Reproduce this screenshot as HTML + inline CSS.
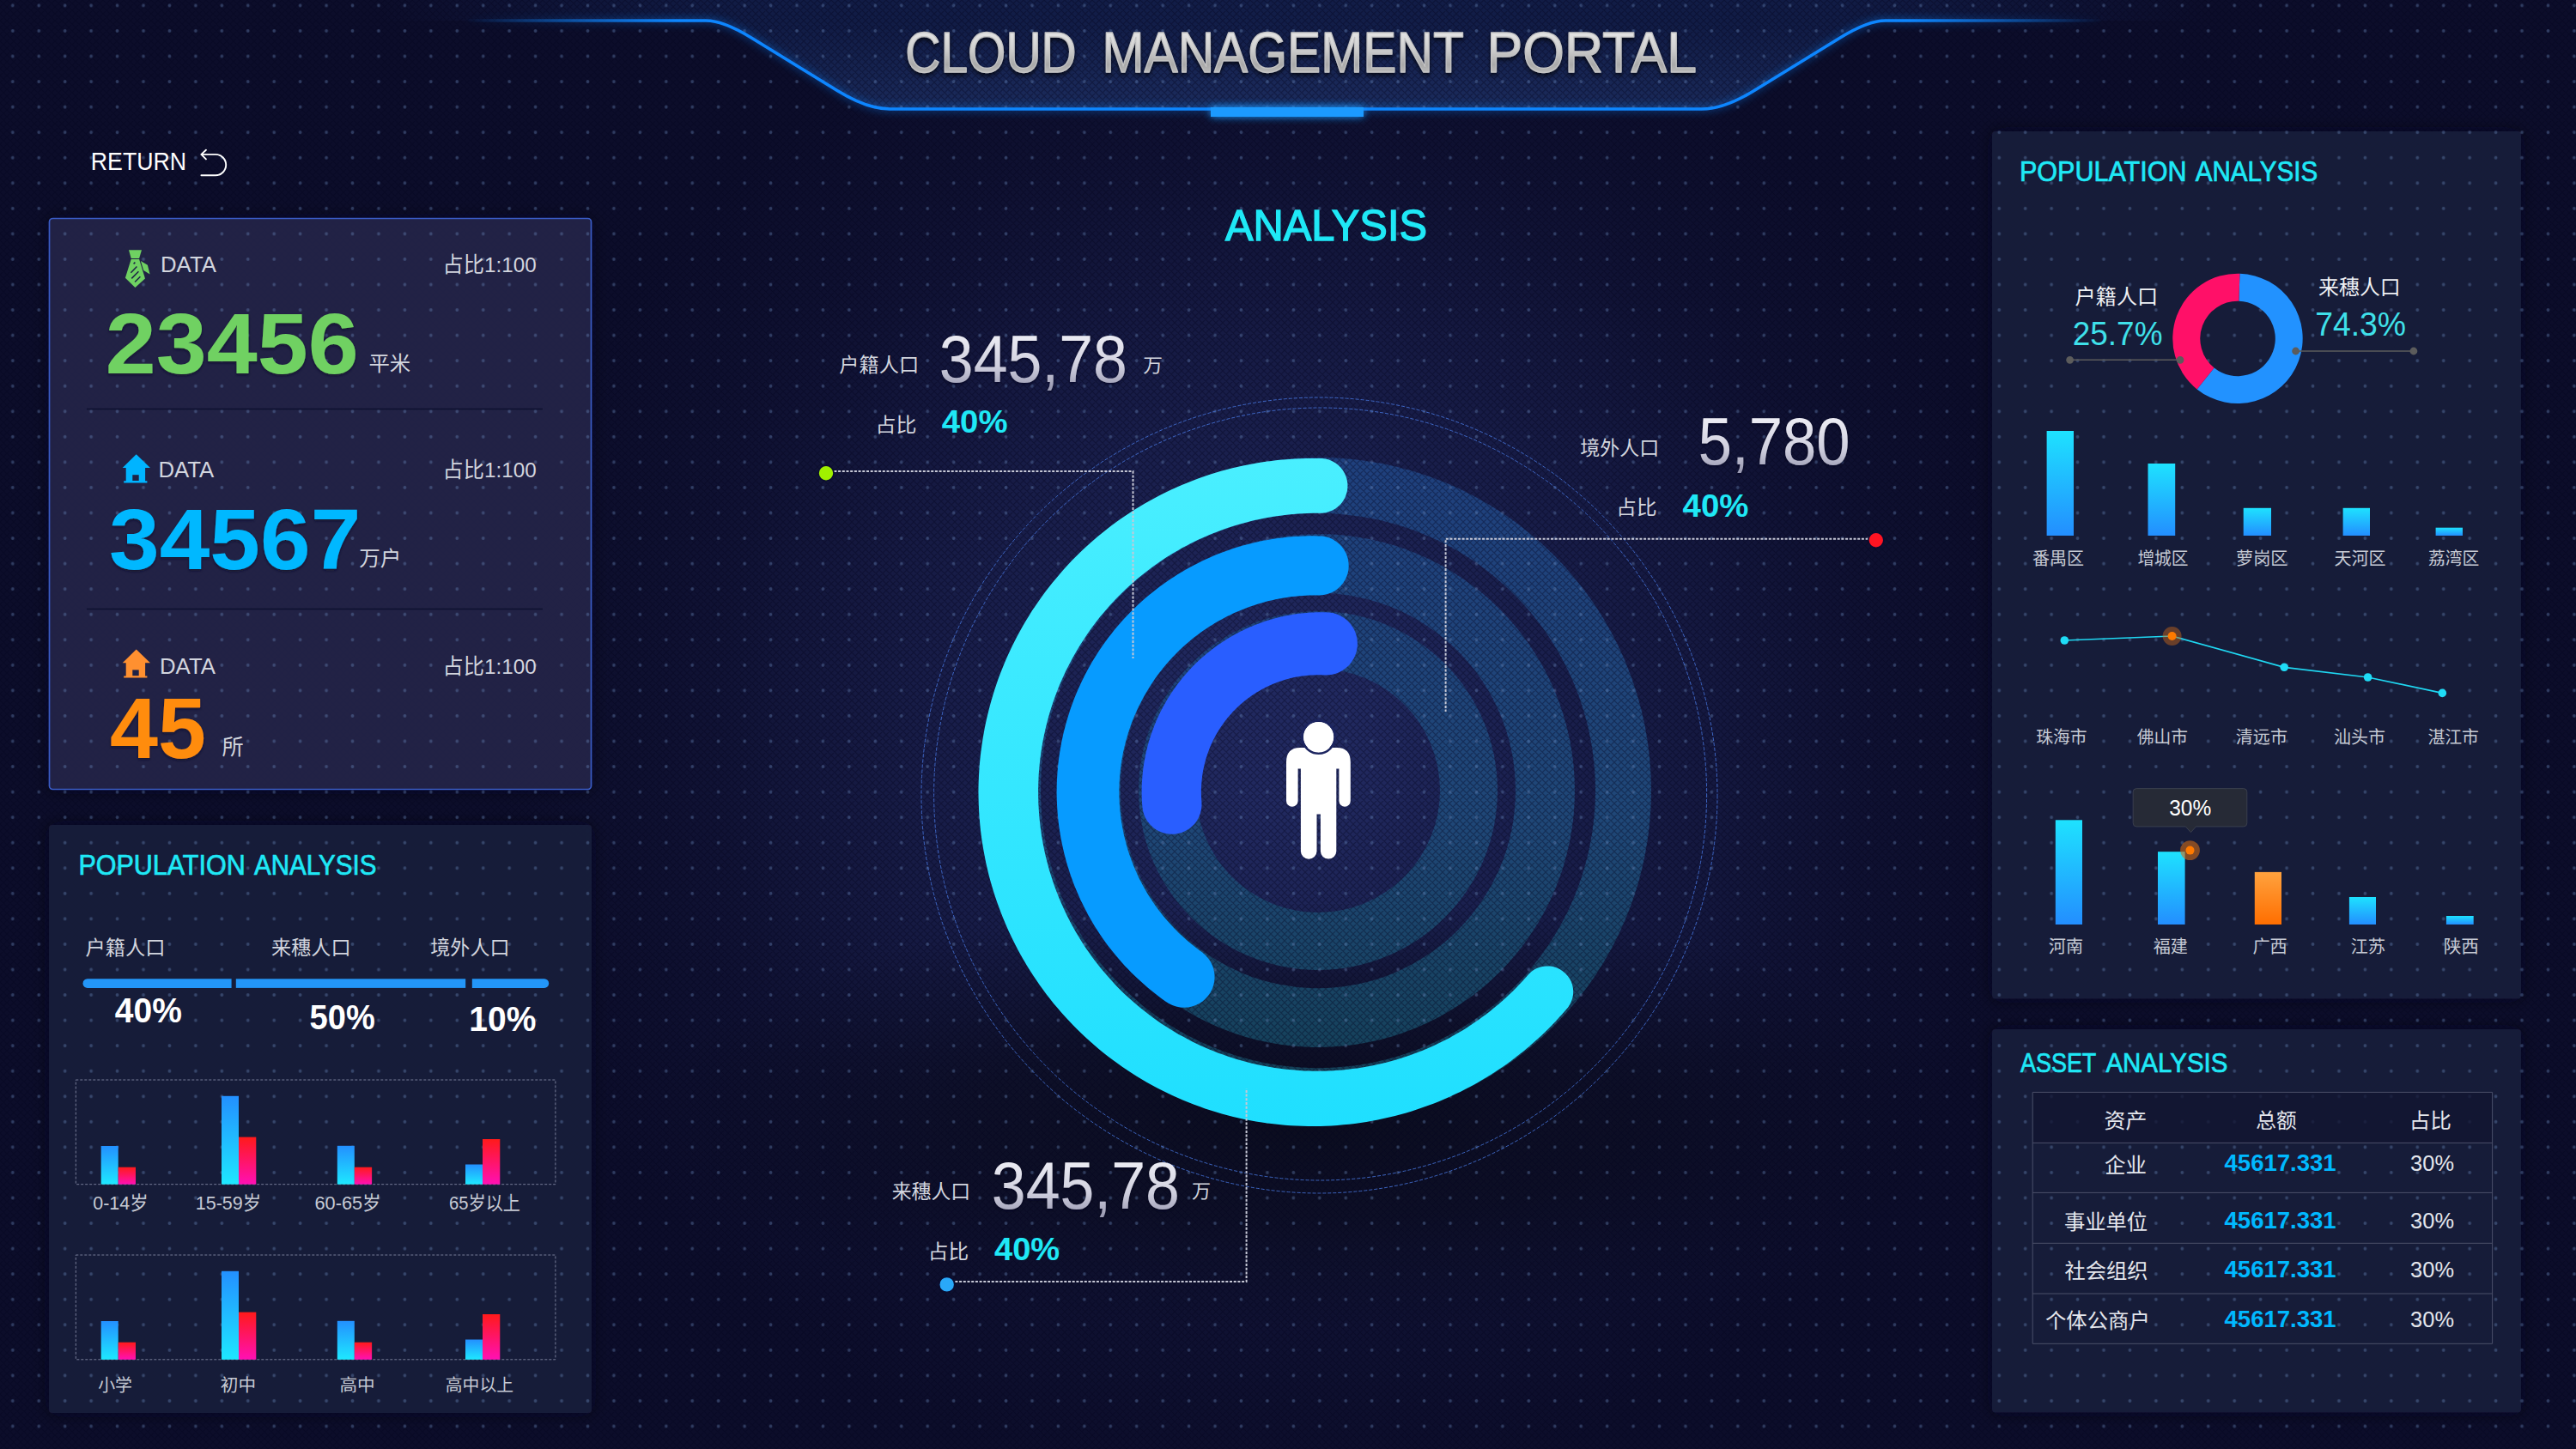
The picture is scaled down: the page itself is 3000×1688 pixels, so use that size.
<!DOCTYPE html>
<html lang="zh"><head><meta charset="utf-8"><title>CLOUD MANAGEMENT PORTAL</title>
<style>
html,body{margin:0;padding:0;background:#0c0d2a;}
body{width:3000px;height:1688px;overflow:hidden;position:relative;font-family:"Liberation Sans","Noto Sans CJK SC",sans-serif;}
#bg{position:absolute;left:0;top:0;width:3000px;height:1688px;
background:
 radial-gradient(ellipse 760px 250px at 1520px 1300px, rgba(9,10,24,0.88), rgba(9,10,25,0.6) 50%, rgba(9,10,26,0.25) 78%, rgba(9,10,26,0) 100%),
 radial-gradient(circle 900px at 1480px 850px, rgba(33,41,95,1.0) 0%, rgba(33,41,95,1.0) 10%, rgba(33,41,95,0.94) 15.4%, rgba(33,41,95,0.68) 35%, rgba(33,41,95,0.43) 55%, rgba(33,41,95,0.32) 63.5%, rgba(33,41,95,0.21) 71%, rgba(33,41,95,0.13) 79%, rgba(33,41,95,0.085) 85%, rgba(33,41,95,0) 100%),
 #0c0d2a;}
svg{position:absolute;left:0;top:0;}
text{font-family:"Liberation Sans","Noto Sans CJK SC",sans-serif;white-space:pre;}
</style></head><body>
<div id="bg"></div>
<svg width="3000" height="1688" viewBox="0 0 3000 1688">
<defs>
<linearGradient id="gTitle" x1="0" y1="0" x2="0" y2="1"><stop offset="0" stop-color="#f4f4f4"/><stop offset="0.45" stop-color="#cfcfcf"/><stop offset="0.7" stop-color="#a9a9a9"/><stop offset="1" stop-color="#d5d5d5"/></linearGradient>
<linearGradient id="gSilver" x1="0" y1="0" x2="0" y2="1"><stop offset="0.1" stop-color="#f2f2f8"/><stop offset="0.6" stop-color="#cfcfde"/><stop offset="0.9" stop-color="#9c9cb4"/></linearGradient>
<linearGradient id="gLine" gradientUnits="userSpaceOnUse" x1="540" y1="0" x2="2450" y2="0"><stop offset="0" stop-color="#0d86ff" stop-opacity="0"/><stop offset="0.13" stop-color="#0d86ff" stop-opacity="1"/><stop offset="0.88" stop-color="#0d86ff" stop-opacity="1"/><stop offset="1" stop-color="#0d86ff" stop-opacity="0"/></linearGradient>
<linearGradient id="gCyan" gradientUnits="userSpaceOnUse" x1="0" y1="530" x2="0" y2="1315"><stop offset="0" stop-color="#4aefff"/><stop offset="1" stop-color="#1fdfff"/></linearGradient>
<linearGradient id="gTrack" gradientUnits="userSpaceOnUse" x1="0" y1="530" x2="0" y2="1310"><stop offset="0" stop-color="#1f407d"/><stop offset="0.55" stop-color="#1f4777"/><stop offset="1" stop-color="#124052"/></linearGradient>
<linearGradient id="gBlueUp" x1="0" y1="0" x2="0" y2="1"><stop offset="0" stop-color="#2390ff"/><stop offset="1" stop-color="#1ee8ff"/></linearGradient>
<linearGradient id="gBlueDn" x1="0" y1="0" x2="0" y2="1"><stop offset="0" stop-color="#1ee2ff"/><stop offset="1" stop-color="#238eff"/></linearGradient>
<linearGradient id="gRed" x1="0" y1="0" x2="0" y2="1"><stop offset="0" stop-color="#ff1a1a"/><stop offset="1" stop-color="#ff10b4"/></linearGradient>
<linearGradient id="gOrange" x1="0" y1="0" x2="0" y2="1"><stop offset="0" stop-color="#ffa23e"/><stop offset="1" stop-color="#ff6e00"/></linearGradient>
<radialGradient id="gBanner" gradientUnits="userSpaceOnUse" cx="1509" cy="110" r="760" gradientTransform="translate(1509 110) scale(1 0.2) translate(-1509 -110)"><stop offset="0" stop-color="#2a4a8a" stop-opacity="0.04"/><stop offset="0.6" stop-color="#264488" stop-opacity="0.02"/><stop offset="1" stop-color="#264488" stop-opacity="0"/></radialGradient>
<linearGradient id="gBanH" gradientUnits="userSpaceOnUse" x1="440" y1="0" x2="2570" y2="0"><stop offset="0" stop-color="#204896" stop-opacity="0"/><stop offset="0.2" stop-color="#204896" stop-opacity="0.25"/><stop offset="0.8" stop-color="#204896" stop-opacity="0.25"/><stop offset="1" stop-color="#204896" stop-opacity="0"/></linearGradient>
<linearGradient id="gBanV" gradientUnits="userSpaceOnUse" x1="0" y1="30" x2="0" y2="127"><stop offset="0" stop-color="#3c5c9c" stop-opacity="0"/><stop offset="1" stop-color="#3c5ea4" stop-opacity="0.2"/></linearGradient>
<filter id="fTitle" x="-5%" y="-20%" width="110%" height="150%"><feDropShadow dx="0" dy="3" stdDeviation="2.5" flood-color="#000" flood-opacity="0.7"/></filter>
<filter id="fNum" x="-5%" y="-20%" width="110%" height="150%"><feDropShadow dx="0" dy="2" stdDeviation="1.5" flood-color="#0a0c28" flood-opacity="0.7"/></filter>
<filter id="fSil" x="-5%" y="-20%" width="110%" height="150%"><feDropShadow dx="0" dy="2" stdDeviation="1.5" flood-color="#05061a" flood-opacity="0.6"/></filter>
<filter id="fPanel" x="-10%" y="-10%" width="120%" height="120%"><feDropShadow dx="0" dy="0" stdDeviation="9" flood-color="#03041a" flood-opacity="0.75"/></filter>
<filter id="fBlur4" x="-5%" y="-50%" width="110%" height="200%"><feGaussianBlur stdDeviation="4"/></filter>
<filter id="fGlowS" x="-20%" y="-200%" width="140%" height="500%"><feGaussianBlur stdDeviation="5"/></filter>
<pattern id="pHatch" width="8" height="8" patternUnits="userSpaceOnUse"><path d="M-1,-1 L9,9 M9,-1 L-1,9 M-1,1 L1,-1 M7,9 L9,7 M-1,7 L1,9 M7,-1 L9,1" stroke="#02031c" stroke-opacity="0.34" stroke-width="1.3" fill="none"/></pattern>
<pattern id="pDots" width="30.44" height="29.555" x="-0.42" y="-8.38" patternUnits="userSpaceOnUse"><circle cx="15.22" cy="14.78" r="1.9" fill="#7090c4" fill-opacity="0.36"/></pattern>
</defs>
<path d="M440,0 L440,24 L822,24 Q842.5,24 875,44 L975,105.5 Q1010,127 1036,127 L1982,127 Q2008,127 2043,105.5 L2143,44 Q2175.5,24 2196,24 L2570,24 L2570,0Z" fill="url(#gBanH)"/>
<path d="M440,0 L440,24 L822,24 Q842.5,24 875,44 L975,105.5 Q1010,127 1036,127 L1982,127 Q2008,127 2043,105.5 L2143,44 Q2175.5,24 2196,24 L2570,24 L2570,0Z" fill="url(#gBanV)"/>
<path d="M440,0 L440,24 L822,24 Q842.5,24 875,44 L975,105.5 Q1010,127 1036,127 L1982,127 Q2008,127 2043,105.5 L2143,44 Q2175.5,24 2196,24 L2570,24 L2570,0Z" fill="url(#gBanner)"/>
<path d="M1326,921 A209,209 0 1 1 1744,921 A209,209 0 1 1 1326,921Z M1393,921 A142,142 0 1 0 1677,921 A142,142 0 1 0 1393,921Z M1236,921 A299,299 0 1 1 1834,921 A299,299 0 1 1 1236,921Z M1305,921 A230,230 0 1 0 1765,921 A230,230 0 1 0 1305,921Z M1147,921 A388,388 0 1 1 1923,921 A388,388 0 1 1 1147,921Z M1212,921 A323,323 0 1 0 1858,921 A323,323 0 1 0 1212,921Z" fill="url(#gTrack)" fill-rule="evenodd"/>
<rect width="3000" height="1688" fill="url(#pHatch)"/>
<rect x="57.5" y="254.5" width="631" height="665" rx="4" fill="#242748" fill-opacity="0.88" filter="url(#fPanel)"/>
<rect x="57" y="961" width="632" height="685" rx="4" fill="#191d3b" fill-opacity="0.84" filter="url(#fPanel)"/>
<rect x="2320" y="153" width="616" height="1010.5" rx="4" fill="#191d3b" fill-opacity="0.84" filter="url(#fPanel)"/>
<rect x="2320" y="1199" width="616" height="446.5" rx="4" fill="#191d3b" fill-opacity="0.84" filter="url(#fPanel)"/>
<rect width="3000" height="1688" fill="url(#pDots)"/>
<rect x="57.5" y="254.5" width="631" height="665" rx="4" fill="none" stroke="#3a5cc6" stroke-width="1.7"/>
<path d="M540,24 L822,24 Q842.5,24 875,44 L975,105.5 Q1010,127 1036,127 L1982,127 Q2008,127 2043,105.5 L2143,44 Q2175.5,24 2196,24 L2450,24" fill="none" stroke="url(#gLine)" stroke-width="9" opacity="0.28" filter="url(#fBlur4)"/>
<path d="M540,24 L822,24 Q842.5,24 875,44 L975,105.5 Q1010,127 1036,127 L1982,127 Q2008,127 2043,105.5 L2143,44 Q2175.5,24 2196,24 L2450,24" fill="none" stroke="url(#gLine)" stroke-width="3.6"/>
<rect x="1410.0" y="125.0" width="178.0" height="11.0" fill="#1c9aff" filter="url(#fGlowS)"/>
<rect x="1410.0" y="125.0" width="178.0" height="11.0" fill="#1c9aff" />
<path d="M239.9,174.7 L234.4,179.9 L239.9,185.4 M234.4,179.9 L251,179.9 A12.2,12.2 0 0 1 251,204.3 L234.4,204.3" fill="none" stroke="#fff" stroke-width="1.9" stroke-linecap="round" stroke-linejoin="round"/>
<g fill="#6fd162"><path d="M150,291.2 L165,291.2 L162.1,301.1 L152.7,301.1Z"/><path d="M152.7,302 L162.1,302 L169,324.4 L157.4,335 L145.9,323.7Z"/><path d="M163.9,304 L171.9,308.7 L174.6,319.5 L167.2,315Z"/></g>
<g stroke="#1e2347" stroke-width="1.5" fill="none"><path d="M152.4,317.7 L159.4,310.5 M153.3,324.4 L161.4,316.3 M157.1,328.5 L163.4,322.2 M155.6,307.4 L157.4,305.6"/></g>
<g transform="translate(142.7,529.3)"><path d="M16,0 L32.3,15.7 L26.4,15.7 L26.4,31 L28.7,31 L28.7,33.1 L1.5,33.1 L1.5,31 L4,31 L4,15.7 L0,15.7Z" fill="#00b4ff"/><rect x="11.6" y="23.9" width="7.4" height="6.8" fill="#1e2347"/></g>
<g transform="translate(142.7,756.5)"><path d="M16,0 L32.3,15.7 L26.4,15.7 L26.4,31 L28.7,31 L28.7,33.1 L1.5,33.1 L1.5,31 L4,31 L4,15.7 L0,15.7Z" fill="#ff9030"/><rect x="11.6" y="23.9" width="7.4" height="6.8" fill="#1e2347"/></g>
<path d="M101,476.5 H632 M101,709.5 H632" stroke="#0e1130" stroke-width="1.6"/>
<path d="M101.8,1140.3 H269.6 V1150.9 H101.8 A5.3,5.3 0 0 1 101.8,1140.3Z" fill="#2396f8"/>
<rect x="274.8" y="1140.3" width="267.4" height="10.6" fill="#2396f8" />
<path d="M549.8,1140.3 H633.9 A5.3,5.3 0 0 1 633.9,1150.9 H549.8Z" fill="#2396f8"/>
<rect x="88.3" y="1258" width="558.6" height="121.7" fill="none" stroke="#777c98" stroke-width="1" stroke-dasharray="3 2"/>
<rect x="117.7" y="1335.0" width="20.0" height="44.7" fill="url(#gBlueUp)" />
<rect x="137.7" y="1359.7" width="20.3" height="20.0" fill="url(#gRed)" />
<rect x="258.0" y="1276.8" width="20.0" height="102.9" fill="url(#gBlueUp)" />
<rect x="278.0" y="1324.6" width="20.3" height="55.1" fill="url(#gRed)" />
<rect x="392.8" y="1334.8" width="20.0" height="44.9" fill="url(#gBlueUp)" />
<rect x="412.8" y="1359.7" width="20.3" height="20.0" fill="url(#gRed)" />
<rect x="542.0" y="1356.5" width="20.0" height="23.2" fill="url(#gBlueUp)" />
<rect x="562.0" y="1327.0" width="20.3" height="52.7" fill="url(#gRed)" />
<rect x="88.3" y="1462" width="558.6" height="121.8" fill="none" stroke="#777c98" stroke-width="1" stroke-dasharray="3 2"/>
<rect x="117.7" y="1539.0" width="20.0" height="44.8" fill="url(#gBlueUp)" />
<rect x="137.7" y="1563.7" width="20.3" height="20.1" fill="url(#gRed)" />
<rect x="258.0" y="1480.8" width="20.0" height="103.0" fill="url(#gBlueUp)" />
<rect x="278.0" y="1528.6" width="20.3" height="55.2" fill="url(#gRed)" />
<rect x="392.8" y="1538.8" width="20.0" height="45.0" fill="url(#gBlueUp)" />
<rect x="412.8" y="1563.7" width="20.3" height="20.1" fill="url(#gRed)" />
<rect x="542.0" y="1560.5" width="20.0" height="23.3" fill="url(#gBlueUp)" />
<rect x="562.0" y="1531.0" width="20.3" height="52.8" fill="url(#gRed)" />
<circle cx="1536.5" cy="926.5" r="463.5" fill="none" stroke="#4574dc" stroke-width="1" stroke-dasharray="4 2" opacity="0.85"/>
<circle cx="1537.6" cy="925" r="450" fill="none" stroke="#4574dc" stroke-width="1" stroke-dasharray="4 2" opacity="0.85"/>
<path d="M1535.3,534.1 L1528.5,534.0 L1521.7,534.1 L1514.9,534.2 L1508.1,534.5 L1501.3,535.0 L1494.5,535.5 L1487.8,536.1 L1481.0,536.9 L1474.3,537.8 L1467.5,538.8 L1460.8,539.9 L1454.2,541.2 L1447.5,542.5 L1440.9,544.0 L1434.2,545.6 L1427.7,547.3 L1421.1,549.1 L1414.6,551.1 L1408.1,553.1 L1401.7,555.3 L1395.2,557.5 L1388.9,559.9 L1382.6,562.4 L1376.3,565.0 L1370.0,567.7 L1363.9,570.6 L1357.7,573.5 L1351.6,576.5 L1345.6,579.7 L1339.6,582.9 L1333.7,586.3 L1327.9,589.7 L1322.1,593.3 L1316.3,596.9 L1310.7,600.7 L1305.1,604.6 L1299.5,608.5 L1294.1,612.6 L1288.7,616.7 L1283.4,621.0 L1278.1,625.3 L1273.0,629.7 L1267.9,634.2 L1262.9,638.8 L1257.9,643.5 L1253.1,648.3 L1248.3,653.1 L1243.7,658.1 L1239.1,663.1 L1234.6,668.2 L1230.2,673.4 L1225.9,678.6 L1221.6,683.9 L1217.5,689.3 L1213.5,694.8 L1209.5,700.4 L1205.7,706.0 L1201.9,711.6 L1198.3,717.4 L1194.7,723.2 L1191.3,729.0 L1188.0,735.0 L1184.7,741.0 L1181.6,747.0 L1178.6,753.1 L1175.7,759.2 L1172.8,765.4 L1170.1,771.7 L1167.6,777.9 L1165.1,784.3 L1162.7,790.6 L1160.5,797.1 L1158.3,803.5 L1156.3,810.0 L1154.4,816.5 L1152.6,823.1 L1150.9,829.7 L1149.3,836.3 L1147.8,842.9 L1146.5,849.6 L1145.3,856.3 L1144.2,863.0 L1143.2,869.7 L1142.3,876.5 L1141.5,883.2 L1140.9,890.0 L1140.4,896.8 L1140.0,903.6 L1139.7,910.3 L1139.5,917.1 L1139.5,923.9 L1139.6,930.7 L1139.8,937.5 L1140.1,944.3 L1140.5,951.1 L1141.1,957.9 L1141.7,964.7 L1142.5,971.4 L1143.4,978.2 L1144.5,984.9 L1145.6,991.6 L1146.9,998.3 L1148.2,1004.9 L1149.7,1011.6 L1151.3,1018.2 L1153.0,1024.7 L1154.9,1031.3 L1156.8,1037.8 L1158.9,1044.3 L1161.1,1050.7 L1163.4,1057.1 L1165.8,1063.5 L1168.3,1069.8 L1170.9,1076.1 L1173.6,1082.3 L1176.5,1088.5 L1179.4,1094.6 L1182.5,1100.7 L1185.6,1106.7 L1188.9,1112.7 L1192.2,1118.6 L1195.7,1124.4 L1199.3,1130.2 L1203.0,1135.9 L1206.7,1141.6 L1210.6,1147.2 L1214.6,1152.7 L1218.6,1158.2 L1222.8,1163.5 L1227.0,1168.9 L1231.4,1174.1 L1235.8,1179.2 L1240.3,1184.3 L1245.0,1189.3 L1249.7,1194.2 L1254.4,1199.1 L1259.3,1203.8 L1264.3,1208.5 L1269.3,1213.0 L1274.4,1217.5 L1279.6,1221.9 L1284.8,1226.2 L1290.2,1230.4 L1295.6,1234.6 L1301.1,1238.6 L1306.6,1242.5 L1312.2,1246.3 L1317.9,1250.1 L1323.7,1253.7 L1329.5,1257.2 L1335.4,1260.7 L1341.3,1264.0 L1347.3,1267.2 L1353.3,1270.3 L1359.4,1273.3 L1365.6,1276.2 L1371.8,1279.0 L1378.0,1281.7 L1384.3,1284.3 L1390.6,1286.8 L1397.0,1289.1 L1403.4,1291.4 L1409.9,1293.5 L1416.4,1295.5 L1422.9,1297.4 L1429.5,1299.2 L1436.1,1300.9 L1442.7,1302.4 L1449.3,1303.9 L1456.0,1305.2 L1462.7,1306.4 L1469.4,1307.5 L1476.1,1308.5 L1482.9,1309.3 L1489.6,1310.1 L1496.4,1310.7 L1503.2,1311.2 L1510.0,1311.6 L1516.8,1311.8 L1523.6,1312.0 L1530.4,1312.0 L1537.2,1311.9 L1544.0,1311.7 L1550.8,1311.4 L1557.5,1310.9 L1564.3,1310.3 L1571.1,1309.7 L1577.8,1308.9 L1584.6,1307.9 L1591.3,1306.9 L1598.0,1305.7 L1604.7,1304.5 L1611.3,1303.1 L1618.0,1301.6 L1624.6,1300.0 L1631.1,1298.2 L1637.7,1296.4 L1644.2,1294.4 L1650.7,1292.3 L1657.1,1290.1 L1663.5,1287.8 L1669.9,1285.4 L1676.2,1282.9 L1682.4,1280.2 L1688.7,1277.5 L1694.8,1274.6 L1701.0,1271.7 L1707.0,1268.6 L1713.0,1265.4 L1719.0,1262.2 L1724.9,1258.8 L1730.7,1255.3 L1736.5,1251.7 L1742.2,1248.0 L1747.9,1244.2 L1753.5,1240.4 L1759.0,1236.4 L1764.4,1232.3 L1769.8,1228.1 L1775.1,1223.9 L1780.3,1219.5 L1785.4,1215.1 L1790.5,1210.5 L1795.5,1205.9 L1800.4,1201.2 L1805.2,1196.4 L1810.0,1191.5 L1814.6,1186.6 L1819.2,1181.5 L1823.6,1176.4 L1826.2,1173.4 L1828.3,1170.1 L1830.0,1166.6 L1831.2,1162.9 L1832.0,1159.0 L1832.2,1155.1 L1831.9,1151.2 L1831.1,1147.3 L1829.8,1143.6 L1828.0,1140.1 L1825.8,1136.9 L1823.1,1134.0 L1820.1,1131.4 L1816.9,1129.3 L1813.3,1127.6 L1809.6,1126.3 L1805.7,1125.6 L1801.8,1125.4 L1797.9,1125.7 L1794.0,1126.5 L1790.3,1127.8 L1786.8,1129.6 L1783.6,1131.8 L1780.7,1134.5 L1776.9,1138.7 L1773.1,1143.0 L1769.2,1147.1 L1765.3,1151.2 L1761.3,1155.2 L1757.2,1159.1 L1753.0,1163.0 L1748.8,1166.8 L1744.5,1170.5 L1740.1,1174.1 L1735.7,1177.7 L1731.2,1181.2 L1726.6,1184.6 L1722.0,1187.9 L1717.4,1191.1 L1712.7,1194.3 L1707.9,1197.4 L1703.1,1200.4 L1698.2,1203.3 L1693.3,1206.1 L1688.3,1208.9 L1683.3,1211.5 L1678.2,1214.1 L1673.1,1216.5 L1667.9,1218.9 L1662.7,1221.2 L1657.5,1223.4 L1652.2,1225.5 L1646.9,1227.6 L1641.5,1229.5 L1636.2,1231.3 L1630.8,1233.0 L1625.3,1234.7 L1619.9,1236.2 L1614.4,1237.7 L1608.8,1239.0 L1603.3,1240.3 L1597.7,1241.5 L1592.2,1242.5 L1586.6,1243.5 L1581.0,1244.4 L1575.3,1245.1 L1569.7,1245.8 L1564.0,1246.4 L1558.4,1246.8 L1552.7,1247.2 L1547.0,1247.5 L1541.3,1247.7 L1535.7,1247.7 L1530.0,1247.7 L1524.3,1247.6 L1518.6,1247.4 L1513.0,1247.1 L1507.3,1246.6 L1501.6,1246.1 L1496.0,1245.5 L1490.4,1244.8 L1484.7,1244.0 L1479.1,1243.1 L1473.5,1242.1 L1468.0,1240.9 L1462.4,1239.7 L1456.9,1238.4 L1451.4,1237.0 L1445.9,1235.6 L1440.4,1234.0 L1435.0,1232.3 L1429.6,1230.5 L1424.3,1228.6 L1418.9,1226.7 L1413.6,1224.6 L1408.4,1222.4 L1403.2,1220.2 L1398.0,1217.9 L1392.8,1215.4 L1387.7,1212.9 L1382.7,1210.3 L1377.7,1207.6 L1372.7,1204.9 L1367.8,1202.0 L1363.0,1199.0 L1358.2,1196.0 L1353.4,1192.9 L1348.7,1189.7 L1344.1,1186.4 L1339.5,1183.1 L1335.0,1179.6 L1330.5,1176.1 L1326.1,1172.5 L1321.8,1168.8 L1317.5,1165.1 L1313.3,1161.3 L1309.2,1157.4 L1305.1,1153.4 L1301.1,1149.4 L1297.2,1145.2 L1293.4,1141.1 L1289.6,1136.8 L1285.9,1132.5 L1282.2,1128.2 L1278.7,1123.7 L1275.2,1119.2 L1271.8,1114.7 L1268.5,1110.1 L1265.3,1105.4 L1262.1,1100.7 L1259.1,1095.9 L1256.1,1091.0 L1253.2,1086.2 L1250.4,1081.2 L1247.6,1076.2 L1245.0,1071.2 L1242.4,1066.1 L1240.0,1061.0 L1237.6,1055.8 L1235.3,1050.6 L1233.1,1045.4 L1231.0,1040.1 L1229.0,1034.8 L1227.1,1029.5 L1225.3,1024.1 L1223.6,1018.7 L1221.9,1013.2 L1220.4,1007.8 L1219.0,1002.3 L1217.6,996.7 L1216.4,991.2 L1215.2,985.6 L1214.2,980.0 L1213.2,974.4 L1212.4,968.8 L1211.6,963.2 L1211.0,957.6 L1210.4,951.9 L1210.0,946.2 L1209.6,940.6 L1209.3,934.9 L1209.2,929.2 L1209.1,923.5 L1209.1,917.9 L1209.3,912.2 L1209.5,906.5 L1209.8,900.8 L1210.3,895.2 L1210.8,889.5 L1211.4,883.9 L1212.2,878.2 L1213.0,872.6 L1213.9,867.0 L1214.9,861.4 L1216.1,855.8 L1217.3,850.3 L1218.6,844.8 L1220.0,839.3 L1221.5,833.8 L1223.1,828.3 L1224.8,822.9 L1226.6,817.5 L1228.5,812.2 L1230.5,806.8 L1232.5,801.6 L1234.7,796.3 L1237.0,791.1 L1239.3,785.9 L1241.7,780.8 L1244.3,775.7 L1246.9,770.7 L1249.6,765.7 L1252.4,760.7 L1255.3,755.8 L1258.2,751.0 L1261.3,746.2 L1264.4,741.4 L1267.6,736.7 L1270.9,732.1 L1274.3,727.5 L1277.7,723.0 L1281.2,718.6 L1284.9,714.2 L1288.5,709.9 L1292.3,705.6 L1296.1,701.4 L1300.0,697.3 L1304.0,693.2 L1308.1,689.2 L1312.2,685.3 L1316.4,681.5 L1320.6,677.7 L1324.9,674.0 L1329.3,670.4 L1333.7,666.9 L1338.2,663.4 L1342.8,660.0 L1347.4,656.7 L1352.1,653.5 L1356.8,650.3 L1361.6,647.3 L1366.5,644.3 L1371.4,641.4 L1376.3,638.6 L1381.3,635.9 L1386.3,633.3 L1391.4,630.7 L1396.5,628.3 L1401.7,625.9 L1406.9,623.7 L1412.2,621.5 L1417.5,619.4 L1422.8,617.4 L1428.1,615.5 L1433.5,613.7 L1438.9,612.0 L1444.4,610.4 L1449.8,608.9 L1455.3,607.4 L1460.9,606.1 L1466.4,604.9 L1472.0,603.7 L1477.6,602.7 L1483.2,601.8 L1488.8,600.9 L1494.4,600.2 L1500.1,599.5 L1505.7,599.0 L1511.4,598.5 L1517.1,598.2 L1522.7,597.9 L1528.4,597.8 L1534.1,597.8 L1539.8,597.8 L1543.9,597.2 L1547.9,596.1 L1551.8,594.5 L1555.4,592.4 L1558.7,589.8 L1561.7,586.9 L1564.2,583.6 L1566.3,579.9 L1567.8,576.1 L1568.9,572.0 L1569.4,567.9 L1569.4,563.7 L1568.8,559.5 L1567.7,555.5 L1566.1,551.7 L1564.0,548.1 L1561.5,544.7 L1558.5,541.8 L1555.2,539.3 L1551.5,537.2 L1547.7,535.6 L1543.6,534.6 L1539.5,534.0Z" fill="url(#gCyan)"/>
<path d="M1535.0,624.4 L1529.8,624.3 L1524.6,624.3 L1519.4,624.4 L1514.2,624.7 L1509.0,625.0 L1503.8,625.3 L1498.6,625.8 L1493.5,626.4 L1488.3,627.1 L1483.2,627.8 L1478.0,628.7 L1472.9,629.6 L1467.8,630.6 L1462.7,631.7 L1457.6,632.9 L1452.6,634.2 L1447.6,635.6 L1442.6,637.0 L1437.6,638.6 L1432.7,640.2 L1427.7,641.9 L1422.9,643.8 L1418.0,645.6 L1413.2,647.6 L1408.4,649.7 L1403.7,651.8 L1399.0,654.1 L1394.3,656.4 L1389.7,658.8 L1385.1,661.2 L1380.5,663.8 L1376.0,666.4 L1371.6,669.1 L1367.2,671.9 L1362.8,674.8 L1358.5,677.7 L1354.3,680.7 L1350.1,683.8 L1346.0,686.9 L1341.9,690.2 L1337.8,693.5 L1333.9,696.8 L1330.0,700.3 L1326.1,703.8 L1322.3,707.4 L1318.6,711.0 L1314.9,714.7 L1311.3,718.5 L1307.8,722.3 L1304.3,726.2 L1301.0,730.1 L1297.6,734.1 L1294.4,738.2 L1291.2,742.3 L1288.1,746.5 L1285.0,750.7 L1282.1,755.0 L1279.2,759.3 L1276.4,763.7 L1273.6,768.2 L1271.0,772.6 L1268.4,777.2 L1265.9,781.7 L1263.5,786.3 L1261.2,791.0 L1258.9,795.7 L1256.7,800.4 L1254.6,805.2 L1252.6,810.0 L1250.7,814.8 L1248.9,819.7 L1247.1,824.6 L1245.5,829.5 L1243.9,834.5 L1242.4,839.5 L1241.0,844.5 L1239.7,849.5 L1238.4,854.6 L1237.3,859.7 L1236.2,864.8 L1235.3,869.9 L1234.4,875.0 L1233.6,880.2 L1232.9,885.3 L1232.3,890.5 L1231.8,895.7 L1231.4,900.9 L1231.1,906.1 L1230.8,911.3 L1230.7,916.5 L1230.6,921.7 L1230.6,926.9 L1230.8,932.1 L1231.0,937.3 L1231.3,942.5 L1231.7,947.7 L1232.2,952.9 L1232.7,958.1 L1233.4,963.2 L1234.2,968.4 L1235.0,973.5 L1235.9,978.6 L1237.0,983.7 L1238.1,988.8 L1239.3,993.9 L1240.6,998.9 L1241.9,1004.0 L1243.4,1009.0 L1245.0,1013.9 L1246.6,1018.9 L1248.3,1023.8 L1250.1,1028.7 L1252.0,1033.5 L1254.0,1038.3 L1256.1,1043.1 L1258.2,1047.9 L1260.5,1052.6 L1262.8,1057.2 L1265.2,1061.8 L1267.6,1066.4 L1270.2,1071.0 L1272.8,1075.5 L1275.5,1079.9 L1278.3,1084.3 L1281.2,1088.7 L1284.1,1093.0 L1287.1,1097.2 L1290.2,1101.4 L1293.4,1105.5 L1296.6,1109.6 L1299.9,1113.6 L1303.3,1117.6 L1306.7,1121.5 L1310.2,1125.4 L1313.8,1129.1 L1317.5,1132.9 L1321.2,1136.5 L1324.9,1140.1 L1328.8,1143.6 L1332.7,1147.1 L1336.6,1150.5 L1340.6,1153.8 L1344.7,1157.1 L1348.8,1160.3 L1353.0,1163.4 L1357.2,1166.4 L1361.1,1169.0 L1365.3,1171.0 L1369.7,1172.5 L1374.3,1173.5 L1378.9,1173.8 L1383.6,1173.5 L1388.2,1172.5 L1392.6,1171.0 L1396.8,1169.0 L1400.6,1166.4 L1404.1,1163.3 L1407.2,1159.8 L1409.8,1155.9 L1411.9,1151.7 L1413.4,1147.3 L1414.3,1142.7 L1414.6,1138.1 L1414.3,1133.4 L1413.4,1128.9 L1411.9,1124.4 L1409.8,1120.3 L1407.2,1116.4 L1404.1,1112.9 L1400.6,1109.8 L1397.4,1107.5 L1394.2,1105.1 L1391.0,1102.6 L1387.9,1100.1 L1384.8,1097.6 L1381.8,1095.0 L1378.8,1092.3 L1375.8,1089.6 L1372.9,1086.9 L1370.1,1084.1 L1367.3,1081.2 L1364.6,1078.3 L1361.9,1075.3 L1359.2,1072.3 L1356.6,1069.3 L1354.1,1066.2 L1351.6,1063.1 L1349.2,1059.9 L1346.8,1056.7 L1344.5,1053.4 L1342.2,1050.1 L1340.0,1046.8 L1337.9,1043.4 L1335.8,1040.0 L1333.8,1036.5 L1331.8,1033.0 L1329.9,1029.5 L1328.1,1026.0 L1326.3,1022.4 L1324.6,1018.8 L1323.0,1015.1 L1321.4,1011.4 L1319.9,1007.8 L1318.4,1004.0 L1317.0,1000.3 L1315.7,996.5 L1314.4,992.7 L1313.2,988.9 L1312.1,985.1 L1311.1,981.2 L1310.1,977.3 L1309.1,973.4 L1308.3,969.5 L1307.5,965.6 L1306.8,961.7 L1306.1,957.7 L1305.5,953.8 L1305.0,949.8 L1304.6,945.8 L1304.2,941.9 L1303.9,937.9 L1303.7,933.9 L1303.5,929.9 L1303.4,925.9 L1303.4,921.9 L1303.4,917.9 L1303.6,913.9 L1303.7,909.9 L1304.0,905.9 L1304.3,901.9 L1304.7,897.9 L1305.2,894.0 L1305.7,890.0 L1306.3,886.0 L1307.0,882.1 L1307.7,878.2 L1308.5,874.3 L1309.4,870.4 L1310.4,866.5 L1311.4,862.6 L1312.5,858.8 L1313.6,854.9 L1314.8,851.1 L1316.1,847.3 L1317.4,843.6 L1318.8,839.8 L1320.3,836.1 L1321.9,832.4 L1323.5,828.7 L1325.1,825.1 L1326.9,821.5 L1328.7,817.9 L1330.5,814.4 L1332.4,810.9 L1334.4,807.4 L1336.5,804.0 L1338.6,800.6 L1340.7,797.2 L1342.9,793.9 L1345.2,790.6 L1347.5,787.3 L1349.9,784.1 L1352.4,781.0 L1354.9,777.8 L1357.4,774.8 L1360.0,771.7 L1362.7,768.7 L1365.4,765.8 L1368.2,762.9 L1371.0,760.1 L1373.8,757.3 L1376.7,754.5 L1379.7,751.8 L1382.7,749.2 L1385.8,746.6 L1388.8,744.1 L1392.0,741.6 L1395.2,739.2 L1398.4,736.8 L1401.6,734.5 L1405.0,732.2 L1408.3,730.0 L1411.7,727.9 L1415.1,725.8 L1418.5,723.8 L1422.0,721.9 L1425.5,720.0 L1429.1,718.1 L1432.7,716.4 L1436.3,714.6 L1439.9,713.0 L1443.6,711.4 L1447.3,709.9 L1451.0,708.4 L1454.8,707.1 L1458.6,705.7 L1462.4,704.5 L1466.2,703.3 L1470.0,702.2 L1473.9,701.1 L1477.7,700.1 L1481.6,699.2 L1485.5,698.3 L1489.5,697.6 L1493.4,696.8 L1497.3,696.2 L1501.3,695.6 L1505.3,695.1 L1509.2,694.7 L1513.2,694.3 L1517.2,694.0 L1521.2,693.8 L1525.2,693.6 L1529.2,693.5 L1533.2,693.5 L1537.2,693.6 L1541.7,693.1 L1546.1,692.1 L1550.4,690.5 L1554.3,688.4 L1558.0,685.7 L1561.3,682.7 L1564.2,679.2 L1566.6,675.3 L1568.5,671.2 L1569.8,666.9 L1570.6,662.4 L1570.7,657.9 L1570.3,653.4 L1569.3,649.0 L1567.7,644.7 L1565.5,640.7 L1562.9,637.0 L1559.8,633.7 L1556.3,630.9 L1552.5,628.5 L1548.4,626.6 L1544.0,625.3 L1539.6,624.5Z" fill="#079bff"/>
<path d="M1547.7,713.4 L1544.0,713.3 L1540.3,713.2 L1536.7,713.2 L1533.0,713.3 L1529.4,713.4 L1525.7,713.6 L1522.0,713.9 L1518.4,714.2 L1514.8,714.6 L1511.1,715.1 L1507.5,715.6 L1503.9,716.2 L1500.3,716.8 L1496.7,717.5 L1493.1,718.3 L1489.5,719.1 L1486.0,720.0 L1482.4,721.0 L1478.9,722.0 L1475.4,723.1 L1471.9,724.2 L1468.5,725.4 L1465.0,726.7 L1461.6,728.0 L1458.2,729.4 L1454.9,730.8 L1451.5,732.3 L1448.2,733.9 L1444.9,735.5 L1441.7,737.2 L1438.4,738.9 L1435.2,740.7 L1432.1,742.5 L1428.9,744.4 L1425.8,746.4 L1422.8,748.4 L1419.8,750.4 L1416.8,752.5 L1413.8,754.7 L1410.9,756.9 L1408.0,759.2 L1405.2,761.5 L1402.4,763.9 L1399.6,766.3 L1396.9,768.7 L1394.2,771.2 L1391.6,773.8 L1389.0,776.4 L1386.5,779.0 L1384.0,781.7 L1381.6,784.5 L1379.2,787.2 L1376.8,790.1 L1374.5,792.9 L1372.3,795.8 L1370.1,798.7 L1368.0,801.7 L1365.9,804.7 L1363.8,807.8 L1361.9,810.8 L1359.9,814.0 L1358.1,817.1 L1356.3,820.3 L1354.5,823.5 L1352.8,826.7 L1351.1,830.0 L1349.6,833.3 L1348.0,836.6 L1346.5,840.0 L1345.1,843.4 L1343.8,846.8 L1342.5,850.2 L1341.2,853.7 L1340.1,857.1 L1339.0,860.6 L1337.9,864.1 L1336.9,867.6 L1336.0,871.2 L1335.1,874.8 L1334.3,878.3 L1333.6,881.9 L1332.9,885.5 L1332.3,889.1 L1331.7,892.7 L1331.2,896.4 L1330.8,900.0 L1330.5,903.7 L1330.2,907.3 L1329.9,911.0 L1329.7,914.6 L1329.6,918.3 L1329.6,921.9 L1329.6,925.6 L1329.7,929.3 L1329.9,932.9 L1330.1,936.6 L1330.4,940.2 L1331.1,944.7 L1332.3,949.1 L1334.2,953.2 L1336.5,957.1 L1339.4,960.6 L1342.7,963.7 L1346.3,966.4 L1350.3,968.6 L1354.5,970.2 L1358.9,971.3 L1363.4,971.8 L1368.0,971.7 L1372.4,971.0 L1376.8,969.7 L1380.9,967.8 L1384.8,965.5 L1388.3,962.6 L1391.5,959.4 L1394.1,955.7 L1396.3,951.7 L1397.9,947.5 L1399.0,943.1 L1399.5,938.6 L1399.4,934.0 L1399.2,931.7 L1399.1,929.3 L1399.0,926.9 L1398.9,924.5 L1398.9,922.1 L1398.9,919.8 L1399.0,917.4 L1399.1,915.0 L1399.3,912.6 L1399.5,910.2 L1399.7,907.9 L1400.0,905.5 L1400.3,903.1 L1400.6,900.8 L1401.0,898.4 L1401.5,896.1 L1402.0,893.8 L1402.5,891.4 L1403.1,889.1 L1403.7,886.8 L1404.3,884.5 L1405.0,882.2 L1405.7,880.0 L1406.5,877.7 L1407.3,875.5 L1408.1,873.2 L1409.0,871.0 L1409.9,868.8 L1410.9,866.6 L1411.9,864.5 L1412.9,862.3 L1414.0,860.2 L1415.1,858.1 L1416.2,856.0 L1417.4,853.9 L1418.6,851.9 L1419.9,849.8 L1421.2,847.8 L1422.5,845.9 L1423.9,843.9 L1425.3,842.0 L1426.7,840.1 L1428.1,838.2 L1429.6,836.3 L1431.2,834.5 L1432.7,832.7 L1434.3,830.9 L1435.9,829.1 L1437.6,827.4 L1439.3,825.7 L1441.0,824.1 L1442.7,822.4 L1444.5,820.8 L1446.3,819.3 L1448.1,817.7 L1449.9,816.2 L1451.8,814.7 L1453.7,813.3 L1455.6,811.9 L1457.6,810.5 L1459.5,809.2 L1461.5,807.9 L1463.5,806.6 L1465.6,805.4 L1467.6,804.2 L1469.7,803.0 L1471.8,801.9 L1473.9,800.8 L1476.1,799.7 L1478.2,798.7 L1480.4,797.8 L1482.6,796.8 L1484.8,795.9 L1487.0,795.1 L1489.3,794.2 L1491.5,793.5 L1493.8,792.7 L1496.1,792.0 L1498.4,791.3 L1500.7,790.7 L1503.0,790.1 L1505.3,789.6 L1507.6,789.1 L1510.0,788.6 L1512.3,788.2 L1514.7,787.8 L1517.0,787.5 L1519.4,787.2 L1521.8,787.0 L1524.1,786.7 L1526.5,786.6 L1528.9,786.4 L1531.3,786.4 L1533.7,786.3 L1536.0,786.3 L1538.4,786.3 L1540.8,786.4 L1545.6,786.6 L1550.4,786.1 L1555.0,785.0 L1559.5,783.2 L1563.7,781.0 L1567.6,778.1 L1571.1,774.9 L1574.1,771.1 L1576.7,767.0 L1578.6,762.7 L1580.0,758.1 L1580.8,753.3 L1580.9,748.5 L1580.4,743.8 L1579.3,739.1 L1577.6,734.6 L1575.3,730.4 L1572.5,726.5 L1569.2,723.0 L1565.5,720.0 L1561.4,717.5 L1557.0,715.5 L1552.4,714.1Z" fill="#295eff"/>
<path d="M962,549 H1319.5 V767" stroke="#c6c8d6" stroke-width="2" stroke-dasharray="3 1.7" fill="none"/>
<path d="M2185,627.7 H1683.6 V829" stroke="#c6c8d6" stroke-width="2" stroke-dasharray="3 1.7" fill="none"/>
<path d="M1103,1493 H1451.6 V1268" stroke="#c6c8d6" stroke-width="2" stroke-dasharray="3 1.7" fill="none"/>
<circle cx="962" cy="551.3" r="8.9" fill="#a0f000" stroke="#0a0c30" stroke-width="1.4"/>
<circle cx="2184.8" cy="629.3" r="8.9" fill="#ff1422" stroke="#0a0c30" stroke-width="1.4"/>
<circle cx="1102.7" cy="1496.4" r="8.9" fill="#29a8f8" stroke="#0a0c30" stroke-width="1.4"/>
<g fill="#fff"><circle cx="1535.6" cy="858.6" r="17.4"/><path d="M1514,871 H1557 Q1572.8,871 1572.8,888 V933 A6.7,6.7 0 0 1 1559.4,933 V895.6 H1556.3 V991.4 A9.2,9.2 0 0 1 1537.9,991.4 V948.6 H1533.5 V991.4 A9.2,9.2 0 0 1 1514.9,991.4 V895.6 H1511.6 V933 A6.8,6.8 0 0 1 1498,933 V888 Q1498,871 1514,871Z"/></g>
<circle cx="1535.6" cy="858.6" r="19.2" fill="none" stroke="#1c2560" stroke-width="2.6"/>
<circle cx="1535.6" cy="858.6" r="17.6" fill="#fff"/>
<path d="M2608.4,318.7 A75.7,75.7 0 1 1 2558.6,453.4 L2578.6,428.5 A43.75,43.75 0 1 0 2607.4,350.7Z" fill="#2292ff"/>
<path d="M2558.6,453.4 A75.7,75.7 0 0 1 2608.4,318.7 L2607.4,350.7 A43.75,43.75 0 0 0 2578.6,428.5Z" fill="#ff1068"/>
<g stroke="#5c5c5c" stroke-width="1.6" fill="#5c5c5c"><path d="M2410.6,419.3 H2539 M2673.6,409 H2810.9"/><circle cx="2410.6" cy="419.3" r="3.6"/><circle cx="2539" cy="419.3" r="3.6"/><circle cx="2673.6" cy="409" r="3.6"/><circle cx="2810.9" cy="409" r="3.6"/></g>
<rect x="2383.6" y="502.0" width="31.4" height="122.0" fill="url(#gBlueDn)" />
<rect x="2501.5" y="540.0" width="31.7" height="84.0" fill="url(#gBlueDn)" />
<rect x="2612.7" y="591.8" width="32.3" height="32.2" fill="url(#gBlueDn)" />
<rect x="2728.6" y="591.8" width="31.4" height="32.2" fill="url(#gBlueDn)" />
<rect x="2836.6" y="614.7" width="31.4" height="9.3" fill="url(#gBlueDn)" />
<path d="M2404.3,746 L2529.6,741 L2660.2,777.3 L2757.6,789 L2844.3,807.4" fill="none" stroke="#1fd8f2" stroke-width="1.7"/>
<circle cx="2404.3" cy="746" r="4.8" fill="#1fdcf6"/>
<circle cx="2529.6" cy="741" r="11" fill="#d06a18" opacity="0.45"/><circle cx="2529.6" cy="741" r="5" fill="#ff7a00"/>
<circle cx="2660.2" cy="777.3" r="4.8" fill="#1fdcf6"/>
<circle cx="2757.6" cy="789" r="4.8" fill="#1fdcf6"/>
<circle cx="2844.3" cy="807.4" r="4.8" fill="#1fdcf6"/>
<rect x="2393.8" y="955.3" width="31.2" height="121.7" fill="url(#gBlueDn)" />
<rect x="2513.0" y="992.2" width="31.6" height="84.8" fill="url(#gBlueDn)" />
<rect x="2625.8" y="1015.9" width="31.2" height="61.1" fill="url(#gOrange)" />
<rect x="2735.9" y="1045.0" width="31.1" height="32.0" fill="url(#gBlueDn)" />
<rect x="2848.9" y="1067.0" width="31.8" height="10.0" fill="url(#gBlueDn)" />
<path d="M2488.2,918.6 H2612.8 A4,4 0 0 1 2616.8,922.6 V958.9 A4,4 0 0 1 2612.8,962.9 H2557.4 L2551.4,969.7 L2545.4,962.9 H2488.2 A4,4 0 0 1 2484.2,958.9 V922.6 A4,4 0 0 1 2488.2,918.6Z" fill="#262a36" stroke="#3a3f4e" stroke-width="1"/>
<circle cx="2550.5" cy="990.6" r="11.4" fill="#d06a18" opacity="0.6"/><circle cx="2550.5" cy="990.6" r="5" fill="#ff7a00"/>
<rect x="2367.2" y="1272.4" width="535.4" height="59.0" fill="#121430" opacity="0.75"/>
<path d="M2367.2,1272.4 H2902.6 V1565.3 H2367.2Z M2367.2,1331.4 H2902.6 M2367.2,1389.4 H2902.6 M2367.2,1448.3 H2902.6 M2367.2,1507 H2902.6" fill="none" stroke="#4b506a" stroke-width="1"/>
<text x="1054.3" y="83.5" font-size="66.5" font-weight="400" fill="url(#gTitle)" textLength="199.4" lengthAdjust="spacingAndGlyphs" filter="url(#fTitle)" stroke="#c4c4c4" stroke-width="1.3" stroke-linejoin="round">CLOUD</text>
<text x="1283.4" y="83.5" font-size="66.5" font-weight="400" fill="url(#gTitle)" textLength="421.6" lengthAdjust="spacingAndGlyphs" filter="url(#fTitle)" stroke="#c4c4c4" stroke-width="1.3" stroke-linejoin="round">MANAGEMENT</text>
<text x="1731.4" y="83.5" font-size="66.5" font-weight="400" fill="url(#gTitle)" textLength="244.8" lengthAdjust="spacingAndGlyphs" filter="url(#fTitle)" stroke="#c4c4c4" stroke-width="1.3" stroke-linejoin="round">PORTAL</text>
<text x="105.8" y="198.2" font-size="30.3" font-weight="400" fill="#ffffff" textLength="111.3" lengthAdjust="spacingAndGlyphs" >RETURN</text>
<text x="187.0" y="316.6" font-size="25" font-weight="400" fill="#d2d5de" textLength="64.9" lengthAdjust="spacingAndGlyphs" >DATA</text>
<text x="515.6" y="316.6" font-size="24.5" font-weight="400" fill="#d2d5de" textLength="109.0" lengthAdjust="spacingAndGlyphs" >占比1:100</text>
<text x="184.4" y="556.0" font-size="25" font-weight="400" fill="#d2d5de" textLength="64.9" lengthAdjust="spacingAndGlyphs" >DATA</text>
<text x="515.6" y="556.0" font-size="24.5" font-weight="400" fill="#d2d5de" textLength="109.0" lengthAdjust="spacingAndGlyphs" >占比1:100</text>
<text x="186.0" y="784.8" font-size="25" font-weight="400" fill="#d2d5de" textLength="64.9" lengthAdjust="spacingAndGlyphs" >DATA</text>
<text x="515.6" y="784.8" font-size="24.5" font-weight="400" fill="#d2d5de" textLength="109.0" lengthAdjust="spacingAndGlyphs" >占比1:100</text>
<text x="122.7" y="435.0" font-size="100" font-weight="700" fill="#6fd162" textLength="295.0" lengthAdjust="spacingAndGlyphs" filter="url(#fNum)">23456</text>
<text x="429.4" y="431.8" font-size="24" font-weight="400" fill="#d2d5de" textLength="48.9" lengthAdjust="spacingAndGlyphs" >平米</text>
<text x="127.1" y="662.5" font-size="100" font-weight="700" fill="#00b8ff" textLength="293.2" lengthAdjust="spacingAndGlyphs" filter="url(#fNum)">34567</text>
<text x="418.2" y="659.3" font-size="23.5" font-weight="400" fill="#d2d5de" textLength="49.2" lengthAdjust="spacingAndGlyphs" >万户</text>
<text x="128.0" y="883.0" font-size="100" font-weight="700" fill="#ff8c10" textLength="111.9" lengthAdjust="spacingAndGlyphs" filter="url(#fNum)">45</text>
<text x="258.6" y="878.7" font-size="25" font-weight="400" fill="#d2d5de" textLength="25.2" lengthAdjust="spacingAndGlyphs" >所</text>
<text x="91.4" y="1018.8" font-size="33" font-weight="400" fill="#1fe8f6" textLength="194.3" lengthAdjust="spacingAndGlyphs" stroke="#1fe8f6" stroke-width="0.7">POPULATION</text>
<text x="296.0" y="1018.8" font-size="33" font-weight="400" fill="#1fe8f6" textLength="142.5" lengthAdjust="spacingAndGlyphs" stroke="#1fe8f6" stroke-width="0.7">ANALYSIS</text>
<text x="99.6" y="1111.8" font-size="23" font-weight="400" fill="#d2d5de" textLength="93.0" lengthAdjust="spacingAndGlyphs" >户籍人口</text>
<text x="315.9" y="1111.8" font-size="23" font-weight="400" fill="#d2d5de" textLength="92.7" lengthAdjust="spacingAndGlyphs" >来穗人口</text>
<text x="501.3" y="1111.8" font-size="23" font-weight="400" fill="#d2d5de" textLength="92.2" lengthAdjust="spacingAndGlyphs" >境外人口</text>
<text x="133.8" y="1191.4" font-size="40" font-weight="700" fill="#ffffff" textLength="78.0" lengthAdjust="spacingAndGlyphs" >40%</text>
<text x="360.6" y="1198.7" font-size="40" font-weight="700" fill="#ffffff" textLength="76.1" lengthAdjust="spacingAndGlyphs" >50%</text>
<text x="546.3" y="1200.9" font-size="40" font-weight="700" fill="#ffffff" textLength="78.0" lengthAdjust="spacingAndGlyphs" >10%</text>
<text x="108.3" y="1409.0" font-size="22" font-weight="400" fill="#c6cad4" textLength="64.4" lengthAdjust="spacingAndGlyphs" >0-14岁</text>
<text x="227.7" y="1409.0" font-size="22" font-weight="400" fill="#c6cad4" textLength="76.7" lengthAdjust="spacingAndGlyphs" >15-59岁</text>
<text x="366.5" y="1409.0" font-size="22" font-weight="400" fill="#c6cad4" textLength="77.3" lengthAdjust="spacingAndGlyphs" >60-65岁</text>
<text x="523.1" y="1409.0" font-size="22" font-weight="400" fill="#c6cad4" textLength="82.9" lengthAdjust="spacingAndGlyphs" >65岁以上</text>
<text x="114.2" y="1621.1" font-size="20" font-weight="400" fill="#c6cad4" textLength="39.8" lengthAdjust="spacingAndGlyphs" >小学</text>
<text x="256.8" y="1621.1" font-size="20" font-weight="400" fill="#c6cad4" textLength="41.2" lengthAdjust="spacingAndGlyphs" >初中</text>
<text x="395.5" y="1621.1" font-size="20" font-weight="400" fill="#c6cad4" textLength="41.2" lengthAdjust="spacingAndGlyphs" >高中</text>
<text x="518.8" y="1621.1" font-size="20" font-weight="400" fill="#c6cad4" textLength="79.2" lengthAdjust="spacingAndGlyphs" >高中以上</text>
<text x="1427.0" y="280.0" font-size="50" font-weight="400" fill="#1fe8f6" textLength="235.0" lengthAdjust="spacingAndGlyphs" stroke="#1fe8f6" stroke-width="1.4">ANALYSIS</text>
<text x="977.3" y="432.8" font-size="23" font-weight="400" fill="#d2d5de" textLength="92.8" lengthAdjust="spacingAndGlyphs" >户籍人口</text>
<text x="1093.8" y="444.8" font-size="77" font-weight="400" fill="url(#gSilver)" textLength="219.1" lengthAdjust="spacingAndGlyphs" filter="url(#fSil)">345,78</text>
<text x="1331.3" y="432.5" font-size="22" font-weight="400" fill="#d2d5de" textLength="22.8" lengthAdjust="spacingAndGlyphs" >万</text>
<text x="1019.4" y="502.8" font-size="23" font-weight="400" fill="#d2d5de" textLength="48.1" lengthAdjust="spacingAndGlyphs" >占比</text>
<text x="1096.8" y="504.4" font-size="37" font-weight="700" fill="#1fe8f6" textLength="76.7" lengthAdjust="spacingAndGlyphs" >40%</text>
<text x="1840.3" y="529.8" font-size="23" font-weight="400" fill="#d2d5de" textLength="92.0" lengthAdjust="spacingAndGlyphs" >境外人口</text>
<text x="1977.8" y="541.3" font-size="77" font-weight="400" fill="url(#gSilver)" textLength="176.8" lengthAdjust="spacingAndGlyphs" filter="url(#fSil)">5,780</text>
<text x="1882.3" y="598.8" font-size="23" font-weight="400" fill="#d2d5de" textLength="47.2" lengthAdjust="spacingAndGlyphs" >占比</text>
<text x="1959.6" y="601.5" font-size="37" font-weight="700" fill="#1fe8f6" textLength="76.9" lengthAdjust="spacingAndGlyphs" >40%</text>
<text x="1038.7" y="1396.4" font-size="23" font-weight="400" fill="#d2d5de" textLength="91.5" lengthAdjust="spacingAndGlyphs" >来穗人口</text>
<text x="1154.8" y="1408.0" font-size="77" font-weight="400" fill="url(#gSilver)" textLength="219.1" lengthAdjust="spacingAndGlyphs" filter="url(#fSil)">345,78</text>
<text x="1387.9" y="1394.9" font-size="22" font-weight="400" fill="#d2d5de" textLength="22.1" lengthAdjust="spacingAndGlyphs" >万</text>
<text x="1080.7" y="1465.8" font-size="23" font-weight="400" fill="#d2d5de" textLength="47.4" lengthAdjust="spacingAndGlyphs" >占比</text>
<text x="1158.0" y="1468.0" font-size="37" font-weight="700" fill="#1fe8f6" textLength="76.2" lengthAdjust="spacingAndGlyphs" >40%</text>
<text x="2351.9" y="211.2" font-size="33" font-weight="400" fill="#1fe8f6" textLength="194.6" lengthAdjust="spacingAndGlyphs" stroke="#1fe8f6" stroke-width="0.7">POPULATION</text>
<text x="2556.8" y="211.2" font-size="33" font-weight="400" fill="#1fe8f6" textLength="142.4" lengthAdjust="spacingAndGlyphs" stroke="#1fe8f6" stroke-width="0.7">ANALYSIS</text>
<text x="2416.6" y="353.8" font-size="24" font-weight="400" fill="#eef0f4" textLength="96.6" lengthAdjust="spacingAndGlyphs" >户籍人口</text>
<text x="2413.8" y="402.2" font-size="39" font-weight="400" fill="#3fe0ea" textLength="104.7" lengthAdjust="spacingAndGlyphs" >25.7%</text>
<text x="2700.1" y="343.4" font-size="24" font-weight="400" fill="#eef0f4" textLength="95.6" lengthAdjust="spacingAndGlyphs" >来穗人口</text>
<text x="2696.2" y="391.4" font-size="39" font-weight="400" fill="#3fe0ea" textLength="105.9" lengthAdjust="spacingAndGlyphs" >74.3%</text>
<text x="2367.0" y="657.5" font-size="20" font-weight="400" fill="#c6cad4" textLength="60.0" lengthAdjust="spacingAndGlyphs" >番禺区</text>
<text x="2489.4" y="657.5" font-size="20" font-weight="400" fill="#c6cad4" textLength="59.1" lengthAdjust="spacingAndGlyphs" >增城区</text>
<text x="2604.1" y="657.5" font-size="20" font-weight="400" fill="#c6cad4" textLength="60.4" lengthAdjust="spacingAndGlyphs" >萝岗区</text>
<text x="2718.4" y="657.8" font-size="20" font-weight="400" fill="#c6cad4" textLength="60.1" lengthAdjust="spacingAndGlyphs" >天河区</text>
<text x="2828.0" y="657.5" font-size="20" font-weight="400" fill="#c6cad4" textLength="59.4" lengthAdjust="spacingAndGlyphs" >荔湾区</text>
<text x="2371.2" y="865.9" font-size="20" font-weight="400" fill="#c6cad4" textLength="59.4" lengthAdjust="spacingAndGlyphs" >珠海市</text>
<text x="2488.7" y="865.9" font-size="20" font-weight="400" fill="#c6cad4" textLength="59.2" lengthAdjust="spacingAndGlyphs" >佛山市</text>
<text x="2603.8" y="865.9" font-size="20" font-weight="400" fill="#c6cad4" textLength="60.2" lengthAdjust="spacingAndGlyphs" >清远市</text>
<text x="2718.1" y="866.2" font-size="20" font-weight="400" fill="#c6cad4" textLength="59.9" lengthAdjust="spacingAndGlyphs" >汕头市</text>
<text x="2827.4" y="866.2" font-size="20" font-weight="400" fill="#c6cad4" textLength="59.6" lengthAdjust="spacingAndGlyphs" >湛江市</text>
<text x="2526.2" y="949.6" font-size="26" font-weight="400" fill="#ffffff" textLength="49.0" lengthAdjust="spacingAndGlyphs" >30%</text>
<text x="2385.8" y="1110.4" font-size="20" font-weight="400" fill="#c6cad4" textLength="40.2" lengthAdjust="spacingAndGlyphs" >河南</text>
<text x="2507.7" y="1110.4" font-size="20" font-weight="400" fill="#c6cad4" textLength="40.2" lengthAdjust="spacingAndGlyphs" >福建</text>
<text x="2623.4" y="1110.4" font-size="20" font-weight="400" fill="#c6cad4" textLength="40.4" lengthAdjust="spacingAndGlyphs" >广西</text>
<text x="2737.4" y="1110.4" font-size="20" font-weight="400" fill="#c6cad4" textLength="40.6" lengthAdjust="spacingAndGlyphs" >江苏</text>
<text x="2845.7" y="1110.4" font-size="20" font-weight="400" fill="#c6cad4" textLength="41.3" lengthAdjust="spacingAndGlyphs" >陕西</text>
<text x="2353.0" y="1248.6" font-size="32" font-weight="400" fill="#1fe8f6" textLength="88.3" lengthAdjust="spacingAndGlyphs" stroke="#1fe8f6" stroke-width="0.7">ASSET</text>
<text x="2452.4" y="1248.6" font-size="32" font-weight="400" fill="#1fe8f6" textLength="142.0" lengthAdjust="spacingAndGlyphs" stroke="#1fe8f6" stroke-width="0.7">ANALYSIS</text>
<text x="2450.5" y="1313.5" font-size="24" font-weight="400" fill="#e4e6ec" textLength="49.8" lengthAdjust="spacingAndGlyphs" >资产</text>
<text x="2627.3" y="1313.5" font-size="24" font-weight="400" fill="#e4e6ec" textLength="47.4" lengthAdjust="spacingAndGlyphs" >总额</text>
<text x="2805.7" y="1313.5" font-size="24" font-weight="400" fill="#e4e6ec" textLength="49.3" lengthAdjust="spacingAndGlyphs" >占比</text>
<text x="2450.9" y="1365.7" font-size="24" font-weight="400" fill="#e4e6ec" textLength="49.0" lengthAdjust="spacingAndGlyphs" >企业</text>
<text x="2590.5" y="1364.2" font-size="27" font-weight="700" fill="#00b8ff" textLength="130.2" lengthAdjust="spacingAndGlyphs" >45617.331</text>
<text x="2807.1" y="1364.2" font-size="26" font-weight="400" fill="#e4e6ec" textLength="50.9" lengthAdjust="spacingAndGlyphs" >30%</text>
<text x="2403.9" y="1431.8" font-size="24" font-weight="400" fill="#e4e6ec" textLength="97.3" lengthAdjust="spacingAndGlyphs" >事业单位</text>
<text x="2590.5" y="1430.8" font-size="27" font-weight="700" fill="#00b8ff" textLength="130.2" lengthAdjust="spacingAndGlyphs" >45617.331</text>
<text x="2807.1" y="1430.8" font-size="26" font-weight="400" fill="#e4e6ec" textLength="50.9" lengthAdjust="spacingAndGlyphs" >30%</text>
<text x="2404.6" y="1488.5" font-size="24" font-weight="400" fill="#e4e6ec" textLength="96.9" lengthAdjust="spacingAndGlyphs" >社会组织</text>
<text x="2590.5" y="1488.0" font-size="27" font-weight="700" fill="#00b8ff" textLength="130.2" lengthAdjust="spacingAndGlyphs" >45617.331</text>
<text x="2807.1" y="1488.0" font-size="26" font-weight="400" fill="#e4e6ec" textLength="50.9" lengthAdjust="spacingAndGlyphs" >30%</text>
<text x="2382.0" y="1546.5" font-size="24" font-weight="400" fill="#e4e6ec" textLength="121.8" lengthAdjust="spacingAndGlyphs" >个体公商户</text>
<text x="2590.5" y="1546.0" font-size="27" font-weight="700" fill="#00b8ff" textLength="130.2" lengthAdjust="spacingAndGlyphs" >45617.331</text>
<text x="2807.1" y="1546.0" font-size="26" font-weight="400" fill="#e4e6ec" textLength="50.9" lengthAdjust="spacingAndGlyphs" >30%</text>
</svg>
</body></html>
